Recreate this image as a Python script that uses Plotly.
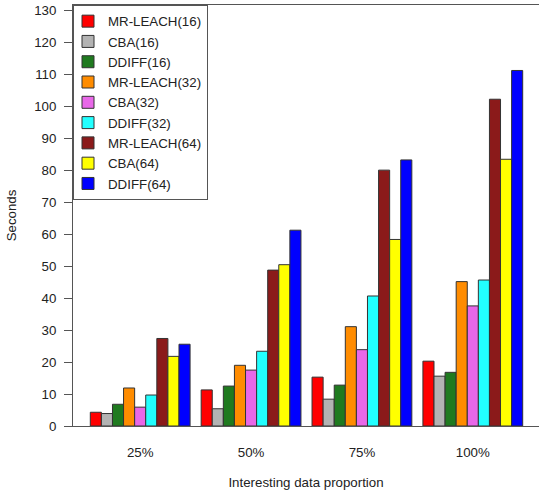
import plotly.graph_objects as go

categories = ["25%", "50%", "75%", "100%"]
series_names = ["MR-LEACH(16)", "CBA(16)", "DDIFF(16)",
                "MR-LEACH(32)", "CBA(32)", "DDIFF(32)",
                "MR-LEACH(64)", "CBA(64)", "DDIFF(64)"]
mr_leach_16 = [4.3, 11.3, 15.3, 20.3]
cba_16 = [3.9, 5.4, 8.4, 15.6]
ddiff_16 = [6.8, 12.5, 12.8, 16.8]
mr_leach_32 = [11.9, 19.0, 31.1, 45.2]
cba_32 = [5.9, 17.5, 23.9, 37.6]
ddiff_32 = [9.7, 23.4, 40.7, 45.7]
mr_leach_64 = [27.4, 48.8, 80.1, 102.3]
cba_64 = [21.8, 50.5, 58.4, 83.5]
ddiff_64 = [25.6, 61.3, 83.3, 111.3]
y_ticks = list(range(0, 131, 10))

series_values = [mr_leach_16, cba_16, ddiff_16, mr_leach_32, cba_32, ddiff_32,
                 mr_leach_64, cba_64, ddiff_64]
colors = ["#FF0000", "#B3B3B3", "#1F7A1F", "#FF8C00", "#E868E8", "#22FFFF",
          "#8B1A1A", "#FFFF00", "#0000FF"]

FONT = "Liberation Sans, Arial, sans-serif"
TXT = "#222222"
LINE = "#555555"

fig = go.Figure()
for name, vals, col in zip(series_names, series_values, colors):
    fig.add_trace(go.Bar(
        x=categories, y=vals, name=name,
        marker=dict(color=col, line=dict(color="#333333", width=1)),
    ))

fig.update_layout(
    width=539, height=497,
    margin=dict(l=73, r=0, t=5, b=71, autoexpand=False),
    paper_bgcolor="white", plot_bgcolor="white",
    barmode="group", bargap=0.1, bargroupgap=0,
    font=dict(family=FONT, size=13.3, color=TXT),
    legend=dict(
        x=0, y=1, xanchor="left", yanchor="top",
        bgcolor="white", bordercolor=LINE, borderwidth=1,
        font=dict(family=FONT, size=13.3, color=TXT),
        tracegroupgap=0, indentation=-6,
    ),
    xaxis=dict(
        range=[-0.606, 3.597], automargin=False,
        showline=True, linecolor=LINE, linewidth=1, mirror=True,
        ticks="", showgrid=False, zeroline=False,
        tickfont=dict(family=FONT, size=13.3, color=TXT),
        ticklabelstandoff=14,
        title=dict(text="Interesting data proportion", standoff=18,
                   font=dict(family=FONT, size=13.3, color=TXT)),
    ),
    yaxis=dict(
        range=[0, 131.8], automargin=False,
        tickvals=y_ticks,
        showline=True, linecolor=LINE, linewidth=1,
        ticks="outside", ticklen=8, tickcolor=LINE,
        showgrid=False, zeroline=False,
        tickfont=dict(family=FONT, size=13.3, color=TXT),
        ticklabelstandoff=5,
        title=dict(text="Seconds", standoff=14,
                   font=dict(family=FONT, size=13.3, color=TXT)),
    ),
)

fig.write_html("out.html",
               config={"displayModeBar": False},
               post_script="document.body.style.margin='0';document.body.style.overflow='hidden';")
